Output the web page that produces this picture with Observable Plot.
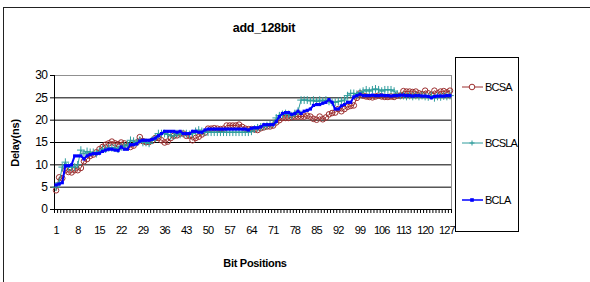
<!DOCTYPE html>
<html>
<head>
<meta charset="utf-8">
<script src="https://cdn.jsdelivr.net/npm/d3@7"></script>
<script src="https://cdn.jsdelivr.net/npm/@observablehq/plot@0.6"></script>
<style>
  html, body { margin: 0; padding: 0; background: #fff; }
  #wrap { position: relative; width: 590px; height: 282px; overflow: hidden; font-family: "Liberation Sans", Arial, sans-serif; color: #000; }
  #frame { position: absolute; left: 3px; top: 7px; width: 620px; height: 320px; border: 1px solid #222; box-sizing: border-box; }
  #title { position: absolute; left: 0; width: 528px; top: 21px; text-align: center; font-weight: bold; font-size: 12.5px; letter-spacing: -0.3px; }
  #ytitle { position: absolute; left: 15px; top: 143px; transform: translate(-50%, -50%) rotate(-90deg); font-weight: bold; font-size: 11px; white-space: nowrap; letter-spacing: -0.2px; }
  #xtitle { position: absolute; left: 0; width: 510px; top: 257px; text-align: center; font-weight: bold; font-size: 11px; letter-spacing: -0.3px; }
  #legend { position: absolute; left: 455px; top: 57px; width: 64px; height: 175px; border: 1px solid #000; box-sizing: border-box; background: #fff; }
  .item { position: absolute; left: 6px; height: 14px; display: flex; align-items: center; font-size: 11px; letter-spacing: -0.8px; }
  .item svg { margin-right: 2px; }
  #chart { position: absolute; left: 0; top: 0; }
  #chart .xlab text { letter-spacing: -0.9px; }
  #chart .ylab text { letter-spacing: -0.5px; }
</style>
</head>
<body>
<div id="wrap">
  <div id="frame"></div>
  <div id="title"></div>
  <div id="ytitle"></div>
  <div id="xtitle"></div>
  <div id="chart"></div>
  <div id="legend"></div>
</div>
<script>
const chartTitle = "add_128bit";
const yLabel = "Delay(ns)";
const xLabel = "Bit Positions";
const seriesNames = ["BCSA", "BCSLA", "BCLA"];
const seriesColors = ["#9c2f2f", "#2f9c9c", "#0000ff"];
const yTicks = [0, 5, 10, 15, 20, 25, 30];
const xTickLabels = [1, 8, 15, 22, 29, 36, 43, 50, 57, 64, 71, 78, 85, 92, 99, 106, 113, 120, 127];
const bits = d3.range(1, 129);

const bcsa = [
  4.3, 7.2, 7.0, 8.8, 8.4, 8.3, 8.8, 8.8, 9.3, 10.8,
  11.3, 12.0, 12.3, 12.8, 13.5, 14.0, 14.5, 14.8, 15.2, 14.8,
  14.6, 15.0, 14.8, 14.2, 14.0, 14.3, 15.0, 16.2, 15.3, 15.1,
  15.1, 15.4, 16.0, 16.0, 15.5, 15.0, 15.2, 16.0, 16.5, 16.6,
  17.0, 17.0, 16.5, 16.5, 15.5, 16.0, 16.3, 16.8, 17.2, 18.1,
  18.1, 18.2, 18.1, 18.0, 18.1, 18.8, 18.8, 18.8, 18.8, 19.0,
  18.5, 18.1, 18.0, 18.0, 17.9, 17.8, 18.2, 18.4, 18.6, 18.6,
  18.8, 19.5, 20.0, 20.5, 20.5, 20.5, 20.7, 20.8, 20.8, 20.8,
  20.8, 21.0, 20.8, 20.3, 20.1, 20.8, 20.2, 20.6, 21.3, 21.6,
  21.7, 22.5, 22.0, 22.5, 23.0, 23.2, 23.3, 25.0, 26.0, 25.5,
  25.3, 25.2, 25.1, 25.3, 25.5, 25.3, 25.2, 25.2, 25.3, 25.2,
  25.5, 25.5, 26.5, 26.4, 26.4, 26.3, 26.4, 26.0, 25.8, 26.6,
  26.0, 25.7, 26.6, 26.0, 26.4, 26.5, 26.2, 26.6
];
const bcsla = [
  5.0, 6.0, 9.5, 10.6, 9.5, 9.5, 9.5, 10.0, 13.3, 12.5,
  13.0, 12.8, 12.8, 12.5, 13.0, 13.5, 13.5, 13.8, 13.8, 13.8,
  13.5, 14.0, 14.2, 14.5, 15.5, 15.3, 15.0, 15.5, 15.0, 15.0,
  14.8, 15.5, 16.0, 17.0, 17.0, 17.0, 16.8, 16.5, 16.5, 17.0,
  16.8, 17.0, 17.0, 16.8, 17.0, 17.5, 17.8, 17.5, 17.3, 17.3,
  17.3, 17.3, 17.3, 17.3, 17.3, 17.3, 17.3, 17.3, 17.3, 17.3,
  17.3, 17.3, 17.3, 17.5, 18.0, 18.3, 18.5, 18.6, 18.8, 19.0,
  19.2, 20.5, 21.0, 21.3, 21.5, 21.3, 21.0, 21.5, 22.0, 24.5,
  24.5, 24.5, 24.3, 24.5, 24.2, 24.5, 24.3, 24.5, 24.2, 24.0,
  24.0, 24.2, 24.3, 24.5, 25.5, 26.0, 26.0, 25.8, 26.2, 26.5,
  26.8, 26.5, 26.8, 27.0, 26.8, 26.5, 26.8, 26.8, 26.8, 26.5,
  25.8, 25.5, 25.5, 25.3, 25.5, 25.3, 25.5, 25.3, 25.5, 25.3,
  25.2, 25.5, 25.0, 25.3, 25.2, 25.4, 25.3, 25.5
];
const bcla = [
  5.5, 5.7, 6.0, 9.8, 9.8, 10.0, 12.0, 12.0, 12.0, 11.3,
  12.0, 12.3, 12.5, 12.5, 12.6, 13.0, 13.3, 13.5, 13.5, 13.3,
  13.2, 14.0, 13.5, 13.5, 14.5, 14.5, 14.7, 15.3, 15.5, 15.5,
  15.5, 15.7, 16.0, 16.5, 17.0, 17.5, 17.5, 17.5, 17.5, 17.3,
  17.5, 17.0, 17.0, 17.0, 17.5, 17.5, 17.3, 17.3, 17.8, 18.0,
  18.0, 18.0, 18.0, 18.0, 18.0, 18.0, 18.0, 18.0, 18.0, 18.0,
  18.0, 18.0, 17.8, 18.2, 18.3, 18.3, 18.5, 19.0, 19.0, 19.0,
  19.0, 19.7, 20.8, 21.5, 21.7, 21.7, 21.3, 21.5, 22.0, 21.5,
  22.0, 22.2, 22.5, 23.3, 23.5, 23.5, 23.8, 24.0, 24.6, 24.0,
  22.5, 22.5, 23.2, 23.5, 24.0, 24.0, 25.2, 25.5, 25.8, 25.5,
  25.5, 25.5, 25.6, 25.5, 25.5, 25.6, 25.5, 25.5, 25.4, 25.5,
  25.5, 25.6, 25.6, 25.5, 25.5, 25.4, 25.5, 25.5, 25.4, 25.4,
  25.3, 25.0, 25.3, 25.4, 25.4, 25.4, 25.5, 25.5
];

const seriesValues = [bcsa, bcsla, bcla];
const rows = seriesNames.map((name, s) => bits.map((b, i) => ({bit: b, v: seriesValues[s][i]})));
const boundaries = bits.map(b => b - 0.5).concat([128.5]);

document.getElementById("title").textContent = chartTitle;
document.getElementById("ytitle").textContent = yLabel;
document.getElementById("xtitle").textContent = xLabel;

const chart = Plot.plot({
  width: 590,
  height: 282,
  marginLeft: 54,
  marginRight: 139,
  marginTop: 75,
  marginBottom: 73,
  style: { background: "transparent", fontFamily: "'Liberation Sans', Arial, sans-serif", fontSize: "11px", color: "#000" },
  x: { domain: [0.5, 128.5] },
  y: { domain: [0, 30] },
  marks: [
    Plot.ruleY(yTicks.filter(t => t > 0 && t < 30), { stroke: "#000", strokeWidth: 1 }),
    Plot.ruleY([30], { stroke: "#909090", strokeWidth: 1 }),
    Plot.ruleX([128.5], { stroke: "#909090", strokeWidth: 1 }),
    Plot.axisY({ ticks: yTicks, tickSize: 4, tickPadding: 3, label: null, fontSize: 12, className: "ylab" }),
    Plot.axisX({ ticks: boundaries, tickSize: 4, tickFormat: () => "", label: null }),
    Plot.axisX({ ticks: xTickLabels, tickSize: 0, tickPadding: 17, label: null, fontSize: 11, className: "xlab" }),
    Plot.ruleY([0], { stroke: "#000" }),
    Plot.ruleX([0.5], { stroke: "#000" }),
    Plot.line(rows[0], { x: "bit", y: "v", stroke: seriesColors[0], strokeWidth: 1 }),
    Plot.dot(rows[0], { x: "bit", y: "v", r: 2.8, stroke: seriesColors[0], strokeWidth: 1, fill: "none" }),
    Plot.line(rows[1], { x: "bit", y: "v", stroke: seriesColors[1], strokeWidth: 1 }),
    Plot.dot(rows[1], { x: "bit", y: "v", r: 2.6, symbol: "plus", stroke: seriesColors[1], strokeWidth: 1, fill: "none" }),
    Plot.line(rows[2], { x: "bit", y: "v", stroke: seriesColors[2], strokeWidth: 2 }),
    Plot.dot(rows[2], { x: "bit", y: "v", r: 1.8, symbol: "square", fill: seriesColors[2], stroke: "none" })
  ]
});
document.getElementById("chart").appendChild(chart);

const legend = document.getElementById("legend");
const legendTops = [22, 78, 135];
seriesNames.forEach((name, s) => {
  const item = document.createElement("div");
  item.className = "item";
  item.style.top = legendTops[s] + "px";
  let marker;
  if (s === 0) marker = `<circle cx="10" cy="7" r="2.8" fill="#fff" stroke="${seriesColors[s]}"/>`;
  else if (s === 1) marker = `<path d="M7.5,7H12.5M10,4.5V9.5" stroke="${seriesColors[s]}"/>`;
  else marker = `<rect x="8.2" y="5.2" width="3.6" height="3.6" fill="${seriesColors[s]}"/>`;
  item.innerHTML = `<svg width="21" height="14"><line x1="0" x2="21" y1="7" y2="7" stroke="${seriesColors[s]}" stroke-width="${s===2?1.5:1}"/>${marker}</svg><span>${name}</span>`;
  legend.appendChild(item);
});
</script>
</body>
</html>
